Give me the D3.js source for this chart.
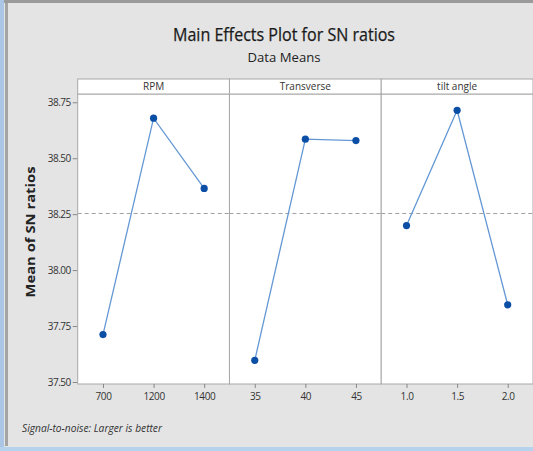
<!DOCTYPE html>
<html><head><meta charset="utf-8">
<script src="https://cdn.jsdelivr.net/npm/d3@7"></script>
<style>html,body{margin:0;padding:0;background:#e4e4e4;overflow:hidden}</style>
</head><body>
<svg id="c" width="533" height="451"></svg>
<script>
const factors = ["RPM", "Transverse", "tilt angle"];
const rpmLevels = ["700", "1200", "1400"];
const rpmMeans = [37.712, 38.679, 38.365];
const transLevels = ["35", "40", "45"];
const transMeans = [37.597, 38.585, 38.579];
const tiltLevels = ["1.0", "1.5", "2.0"];
const tiltMeans = [38.199, 38.714, 37.845];
const yTicks = [37.50, 37.75, 38.00, 38.25, 38.50, 38.75];
const overallMean = 38.253;
const title = "Main Effects Plot for SN ratios";
const subtitle = "Data Means";
const yLabel = "Mean of SN ratios";
const footnote = "Signal-to-noise: Larger is better";

const panels = [
  {name: factors[0], levels: rpmLevels, means: rpmMeans},
  {name: factors[1], levels: transLevels, means: transMeans},
  {name: factors[2], levels: tiltLevels, means: tiltMeans}
];

const svg = d3.select("#c");
const W = 533, H = 451;
const font = "'Liberation Sans Narrow','Open Sans',sans-serif";

// frame
svg.append("rect").attr("width", W).attr("height", H).attr("fill", "#e4e4e4");
svg.append("rect").attr("x", 0).attr("y", 0).attr("width", W).attr("height", 3).attr("fill", "#9a9a9a");
svg.append("rect").attr("x", 0).attr("y", 0).attr("width", 4).attr("height", H).attr("fill", "#aac6e4");
svg.append("rect").attr("x", 5).attr("y", 3).attr("width", 3).attr("height", 443).attr("fill", "#a4a4a4");
svg.append("rect").attr("x", 0).attr("y", 447).attr("width", W).attr("height", 4).attr("fill", "#b6d3ee");

const plotTop = 94, plotBottom = 384, stripTop = 79;
const left = 77.7, right = 533;
const y = d3.scaleLinear().domain([37.491, 38.787]).range([plotBottom, plotTop]);
const px = d3.scaleBand().domain(factors).range([left, right]);

// titles
svg.append("text").attr("x", 284).attr("y", 41).attr("text-anchor", "middle")
  .attr("font-family", "'Open Sans',sans-serif").attr("font-size", 17.5).attr("fill", "#1a1a1a")
  .attr("stroke", "#1a1a1a").attr("stroke-width", 0.25)
  .attr("textLength", 222).attr("lengthAdjust", "spacingAndGlyphs").text(title);
svg.append("text").attr("x", 284).attr("y", 62).attr("text-anchor", "middle")
  .attr("font-family", "'Open Sans',sans-serif").attr("font-size", 12.5).attr("fill", "#222")
  .attr("textLength", 73).attr("lengthAdjust", "spacingAndGlyphs").text(subtitle);

// y axis
const yAxis = svg.append("g").attr("transform", `translate(${left},0)`)
  .call(d3.axisLeft(y).tickValues(yTicks).tickFormat(d3.format(".2f")).tickSize(5).tickPadding(2));
yAxis.select(".domain").remove();
yAxis.selectAll("line").attr("stroke", "#888");
yAxis.selectAll("text").attr("font-family", font).attr("font-size", 10).attr("fill", "#333")
  .attr("letter-spacing", "-0.5px");

svg.append("text").attr("transform", `translate(35,232) rotate(-90)`).attr("text-anchor", "middle")
  .attr("font-family", "'Open Sans',sans-serif").attr("font-weight", "bold").attr("font-size", 12)
  .attr("fill", "#222").attr("textLength", 131).attr("lengthAdjust", "spacingAndGlyphs").text(yLabel);

panels.forEach(p => {
  const x0 = px(p.name), w = px.bandwidth();
  const g = svg.append("g");
  g.append("rect").attr("x", x0).attr("y", plotTop).attr("width", w).attr("height", plotBottom - plotTop)
    .attr("fill", "#fff").attr("stroke", "#a8a8a8").attr("stroke-width", 1);
  g.append("rect").attr("x", x0).attr("y", stripTop).attr("width", w).attr("height", plotTop - stripTop)
    .attr("fill", "#fff").attr("stroke", "#a8a8a8").attr("stroke-width", 1);
  g.append("text").attr("x", x0 + w / 2).attr("y", plotTop - 4).attr("text-anchor", "middle")
    .attr("font-family", font).attr("font-size", 10).attr("fill", "#333").text(p.name);

  const x = d3.scalePoint().domain(p.levels).range([x0, x0 + w]).padding(0.5);
  // reference line
  g.append("line").attr("x1", x0).attr("x2", x0 + w).attr("y1", y(overallMean)).attr("y2", y(overallMean))
    .attr("stroke", "#a0a0a0").attr("stroke-dasharray", "4,3").attr("stroke-width", 1);

  const xa = svg.append("g").attr("transform", `translate(0,${plotBottom})`)
    .call(d3.axisBottom(x).tickSize(4).tickPadding(5));
  xa.select(".domain").remove();
  xa.selectAll("line").attr("stroke", "#888");
  xa.selectAll("text").attr("font-family", font).attr("font-size", 10).attr("fill", "#333")
    .attr("letter-spacing", "-0.4px");

  const pts = p.levels.map((l, i) => [x(l), y(p.means[i])]);
  g.append("path").attr("d", d3.line()(pts)).attr("fill", "none").attr("stroke", "#6498d4").attr("stroke-width", 1.3);
  g.selectAll("circle.m").data(pts).join("circle").attr("class", "m")
    .attr("cx", d => d[0]).attr("cy", d => d[1]).attr("r", 3.6).attr("fill", "#0b4ea6");
});

svg.append("text").attr("x", 22).attr("y", 432).attr("font-family", font).attr("font-style", "italic")
  .attr("font-size", 10).attr("fill", "#333").attr("textLength", 140).attr("lengthAdjust", "spacingAndGlyphs")
  .text(footnote);
</script>
</body></html>
